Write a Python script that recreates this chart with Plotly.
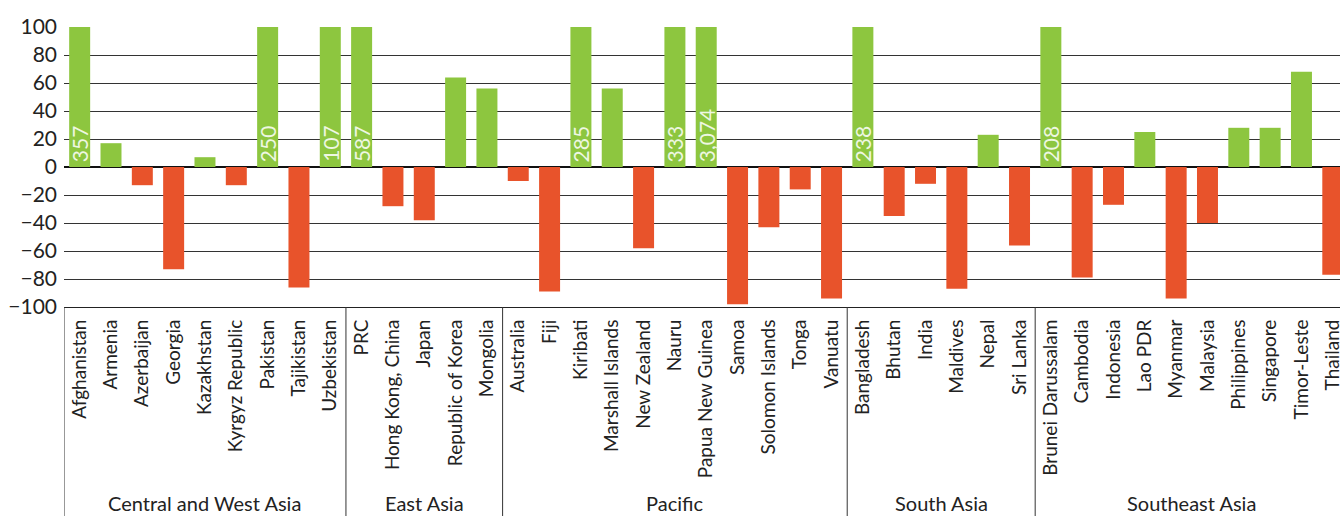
import plotly.graph_objects as go

groups = ["Central and West Asia", "East Asia", "Pacific", "South Asia", "Southeast Asia"]
group_members = [
    ["Afghanistan", "Armenia", "Azerbaijan", "Georgia", "Kazakhstan", "Kyrgyz Republic", "Pakistan", "Tajikistan", "Uzbekistan"],
    ["PRC", "Hong Kong, China", "Japan", "Republic of Korea", "Mongolia"],
    ["Australia", "Fiji", "Kiribati", "Marshall Islands", "New Zealand", "Nauru", "Papua New Guinea", "Samoa", "Solomon Islands", "Tonga", "Vanuatu"],
    ["Bangladesh", "Bhutan", "India", "Maldives", "Nepal", "Sri Lanka"],
    ["Brunei Darussalam", "Cambodia", "Indonesia", "Lao PDR", "Myanmar", "Malaysia", "Philippines", "Singapore", "Timor-Leste", "Thailand"],
]
values = [
    357, 17, -13, -73, 7, -13, 250, -86, 107,
    587, -28, -38, 64, 56,
    -10, -89, 285, 56, -58, 333, 3074, -98, -43, -16, -94,
    238, -35, -12, -87, 23, -56,
    208, -79, -27, 25, -94, -40, 28, 28, 68, -77,
]
y_ticks = [100, 80, 60, 40, 20, 0, -20, -40, -60, -80, -100]

GREEN = "#8DC63F"
RED = "#E8532B"
FONT = "Lato"

countries = [c for g in group_members for c in g]
colors = [GREEN if v >= 0 else RED for v in values]

fig = go.Figure()
fig.add_trace(go.Bar(x=countries, y=values, marker=dict(color=colors, line=dict(width=0)),
                     hoverinfo="x+y"))

annotations = []
for c, v in zip(countries, values):
    if v > 100:
        annotations.append(dict(x=c, y=0, xref="x", yref="y", text=f"{v:,}", showarrow=False,
                                textangle=-90, xanchor="center", yanchor="bottom", yshift=3,
                                font=dict(family=FONT, size=21, color="#eef7e2")))

shapes = []
pos = -0.5
plot_h = 280.0
bottom = -(516 - 307) / plot_h
shapes.append(dict(type="line", xref="x", yref="paper", x0=pos, x1=pos, y0=0, y1=bottom,
                   line=dict(color="#333", width=1)))
for g, members in zip(groups, group_members):
    start = pos
    pos += len(members)
    annotations.append(dict(x=(start + pos) / 2, y=-(503 - 307) / plot_h, xref="x", yref="paper",
                            text=g, showarrow=False, xanchor="center", yanchor="middle",
                            font=dict(family=FONT, size=20, color="#222")))
    if pos < len(countries) - 0.5:
        shapes.append(dict(type="line", xref="x", yref="paper", x0=pos, x1=pos, y0=0, y1=bottom,
                           line=dict(color="#333", width=1)))

fig.update_layout(
    width=1343, height=516,
    margin=dict(l=64, r=0, t=27, b=209),
    paper_bgcolor="white", plot_bgcolor="white",
    showlegend=False,
    bargap=0.33,
    annotations=annotations,
    shapes=shapes,
    font=dict(family=FONT, color="#222"),
)
fig.update_xaxes(type="category", range=[-0.5, 40.23], tickangle=-90,
                 tickfont=dict(family=FONT, size=19, color="#222"),
                 showgrid=False, showline=True, linecolor="#222", linewidth=1,
                 ticks="", ticklabelstandoff=4)
fig.update_yaxes(range=[-100, 100], tickvals=y_ticks,
                 tickfont=dict(family=FONT, size=21, color="#222"),
                 showgrid=True, gridcolor="#333", gridwidth=1.2,
                 zeroline=True, zerolinecolor="#111", zerolinewidth=1.5,
                 showline=False, ticks="", ticklabelstandoff=6)

fig.write_html("out.html")
